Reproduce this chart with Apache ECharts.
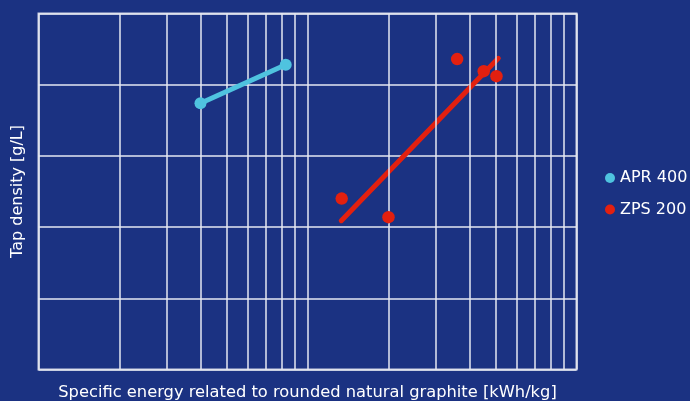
<!DOCTYPE html>
<html>
<head>
<meta charset="utf-8">
<script src="https://cdn.jsdelivr.net/npm/echarts@6/dist/echarts.min.js"></script>
<style>
html,body{margin:0;padding:0;background:#1b3282;}
#chart{width:690px;height:401px;}
</style>
</head>
<body>
<div id="chart"></div>
<script>
// Data
const xAxisTitle = 'Specific energy related to rounded natural graphite [kWh/kg]';
const yAxisTitle = 'Tap density [g/L]';
const seriesNames = ['APR 400', 'ZPS 200'];
const aprX = [4.0, 8.3];
const aprY = [3.74, 4.28];
const zpsX = [13.4, 20.0, 36.0, 45.2, 50.4];
const zpsY = [2.40, 2.14, 4.36, 4.19, 4.12];
const zpsFitX = [13.35, 51.2];
const zpsFitY = [2.09, 4.37];
const minorGridX = [2, 3, 4, 5, 6, 7, 8, 9, 20, 30, 40, 50, 60, 70, 80, 90];

const zip = (xs, ys) => xs.map((x, i) => [x, ys[i]]);
const gridColor = '#e6e8f2';
const font = '"DejaVu Sans", Verdana, sans-serif';

const chart = echarts.init(document.getElementById('chart'), null, {renderer: 'canvas'});
chart.setOption({
  backgroundColor: '#1b3282',
  animation: false,
  grid: {
    left: 38.5, right: 113.5, top: 13.5, bottom: 31.5,
    outerBoundsMode: 'none', containLabel: false,
    show: true, borderColor: '#c9cde0', borderWidth: 2, backgroundColor: 'transparent'
  },
  legend: {
    orient: 'vertical',
    left: 605, top: 170, padding: 0,
    itemWidth: 10, itemHeight: 10, itemGap: 15.5,
    icon: 'circle',
    data: seriesNames,
    textStyle: {color: '#ffffff', fontSize: 16, fontFamily: font}
  },
  xAxis: {
    type: 'log', logBase: 10, min: 1, max: 100,
    name: xAxisTitle, nameLocation: 'middle', nameGap: 15,
    nameTextStyle: {color: '#ffffff', fontSize: 16.3, fontFamily: font},
    axisLine: {show: false}, axisTick: {show: false}, axisLabel: {show: false},
    splitLine: {show: true, lineStyle: {color: gridColor, width: 1.5}}
  },
  yAxis: {
    type: 'value', min: 0, max: 5, interval: 1,
    name: yAxisTitle, nameLocation: 'middle', nameGap: 13,
    nameTextStyle: {color: '#ffffff', fontSize: 16, fontFamily: font},
    axisLine: {show: false}, axisTick: {show: false}, axisLabel: {show: false},
    splitLine: {show: true, lineStyle: {color: gridColor, width: 1.5}}
  },
  series: [
    {
      name: 'grid-minor', type: 'line', data: [], silent: true,
      markLine: {
        silent: true, symbol: ['none', 'none'], label: {show: false},
        lineStyle: {color: gridColor, width: 1.5, type: 'solid'},
        data: minorGridX.map(v => ({xAxis: v}))
      }
    },
    {
      name: seriesNames[0], type: 'line', data: zip(aprX, aprY),
      color: '#4fc3df', symbol: 'circle', symbolSize: 12, showSymbol: true,
      lineStyle: {width: 5, color: '#4fc3df'}, itemStyle: {color: '#4fc3df', opacity: 1}, z: 5
    },
    {
      name: 'ZPS fit', type: 'line', data: zip(zpsFitX, zpsFitY),
      symbol: 'none', lineStyle: {width: 5, color: '#e3200f', cap: 'round'}, z: 4
    },
    {
      name: seriesNames[1], type: 'scatter', data: zip(zpsX, zpsY),
      color: '#e3200f',
      symbol: 'circle', symbolSize: 12.5, itemStyle: {color: '#e3200f', opacity: 1}, z: 6
    }
  ]
});
</script>
</body>
</html>
